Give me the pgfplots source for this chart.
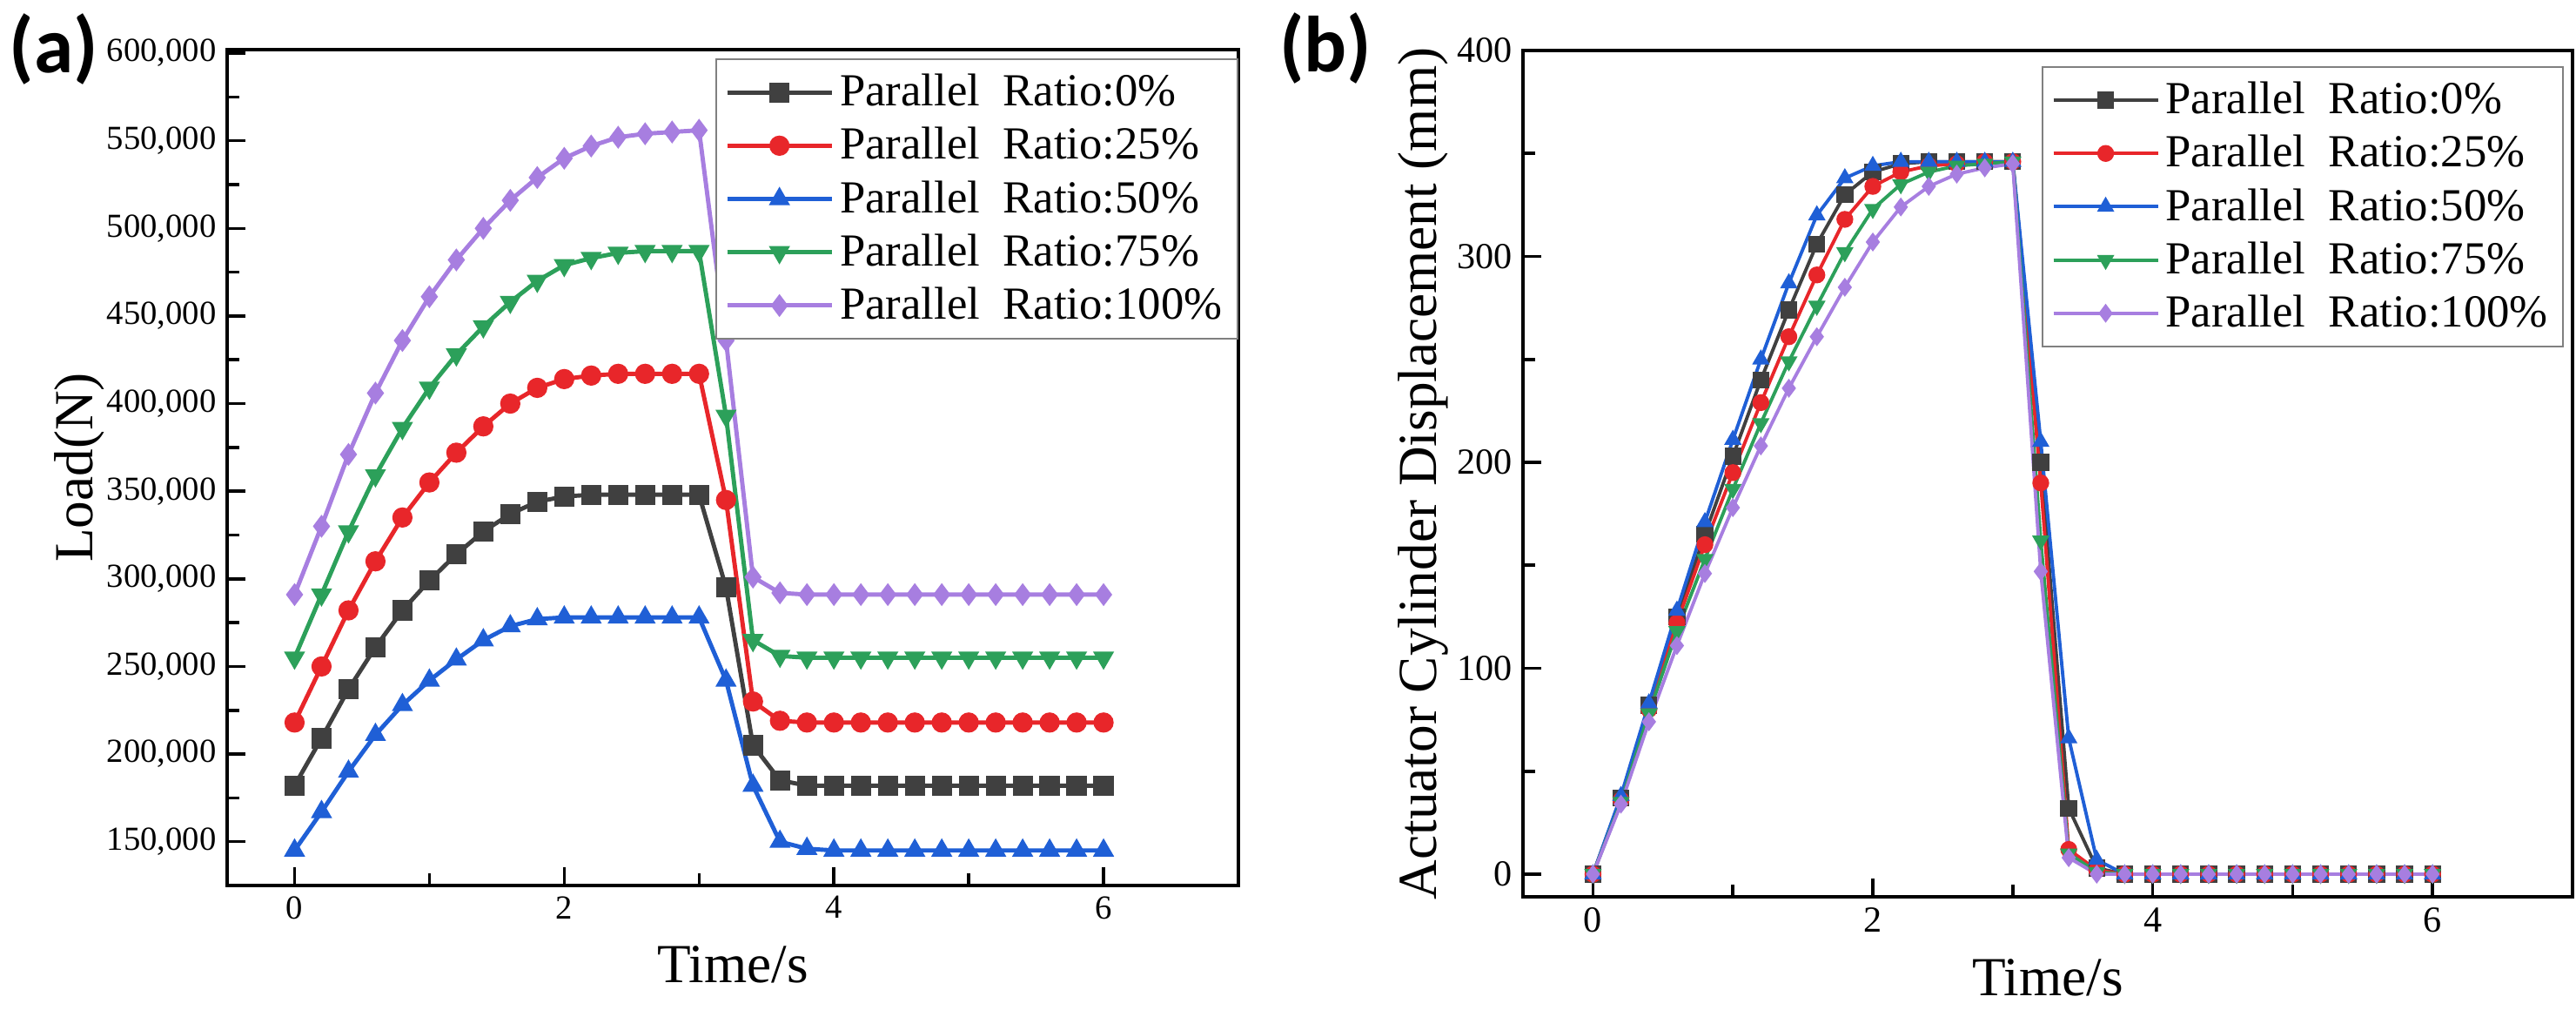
\documentclass[border=0pt]{standalone}
\usepackage{pgfplots}
\pgfplotsset{compat=1.18}
\usepackage{fontspec}
\setmainfont{Liberation Serif}
\newfontfamily\labfont{Carlito}
\definecolor{cK}{HTML}{404040}
\definecolor{cR}{HTML}{E8262A}
\definecolor{cB}{HTML}{1F5FD6}
\definecolor{cG}{HTML}{2CA05A}
\definecolor{cP}{HTML}{A77EE0}
\begin{document}
\begin{tikzpicture}
\path[use as bounding box] (0,0) rectangle (29.6cm,11.59cm);
\pgfplotsset{
  common/.style={
    scale only axis, axis line style={line width=1.4pt},
    xmin=-0.5, xmax=7, xtick={0,2,4,6}, xticklabels={0,2,4,6}, minor xtick={1,3,5},
    tick align=inside, xtick pos=bottom, ytick pos=left,
    major tick length=6pt, minor tick length=4pt, tick style={line width=1pt,black},
    scaled y ticks=false,
    legend cell align=left,
    legend style={font=\fontsize{15}{18}\selectfont, draw=gray, line width=0.6pt, inner sep=3pt, row sep=1.5pt},
    legend image code/.code={\draw[mark repeat=2,mark phase=2,#1] plot coordinates {(0cm,0cm) (0.6cm,0cm) (1.2cm,0cm)};},
  }
}
\begin{axis}[common, at={(2.61cm,1.42cm)}, anchor=south west, width=11.62cm, height=9.6cm,
  ymin=125000, ymax=602000, ytick={150000,200000,250000,300000,350000,400000,450000,500000,550000,600000},
  yticklabels={{150,000},{200,000},{250,000},{300,000},{350,000},{400,000},{450,000},{500,000},{550,000},{600,000}},
  minor ytick={175000,225000,275000,325000,375000,425000,475000,525000,575000},
  tick label style={font=\fontsize{11}{13}\selectfont},
  xlabel={Time/s}, ylabel={Load(N)}, label style={font=\fontsize{18}{20}\selectfont},
  xlabel style={yshift=-2pt}, ylabel style={yshift=-6pt},
  legend style={at={(1,0.99)}, anchor=north east},
  every axis plot/.append style={line width=1.4pt, mark size=2.6pt}]
\addplot[cK, mark=square*] coordinates {(0,182000)(0.2,209000)(0.4,237000)(0.6,261000)(0.8,282000)(1.0,299000)(1.2,314000)(1.4,327000)(1.6,337000)(1.8,344000)(2.0,347000)(2.2,348000)(2.4,348000)(2.6,348000)(2.8,348000)(3.0,348000)(3.2,295000)(3.4,205000)(3.6,185000)(3.8,182000)(4.0,182000)(4.2,182000)(4.4,182000)(4.6,182000)(4.8,182000)(5.0,182000)(5.2,182000)(5.4,182000)(5.6,182000)(5.8,182000)(6.0,182000)};
\addplot[cR, mark=*] coordinates {(0,218000)(0.2,250000)(0.4,282000)(0.6,310000)(0.8,335000)(1.0,355000)(1.2,372000)(1.4,387000)(1.6,400000)(1.8,409000)(2.0,414000)(2.2,416000)(2.4,417000)(2.6,417000)(2.8,417000)(3.0,417000)(3.2,345000)(3.4,230000)(3.6,219000)(3.8,218000)(4.0,218000)(4.2,218000)(4.4,218000)(4.6,218000)(4.8,218000)(5.0,218000)(5.2,218000)(5.4,218000)(5.6,218000)(5.8,218000)(6.0,218000)};
\addplot[cB, mark=triangle*] coordinates {(0,145000)(0.2,167000)(0.4,190000)(0.6,211000)(0.8,228000)(1.0,242000)(1.2,254000)(1.4,265000)(1.6,273000)(1.8,277000)(2.0,278000)(2.2,278000)(2.4,278000)(2.6,278000)(2.8,278000)(3.0,278000)(3.2,242000)(3.4,182000)(3.6,150000)(3.8,146000)(4.0,145000)(4.2,145000)(4.4,145000)(4.6,145000)(4.8,145000)(5.0,145000)(5.2,145000)(5.4,145000)(5.6,145000)(5.8,145000)(6.0,145000)};
\addplot[cG, mark=triangle*, mark options={rotate=180}] coordinates {(0,255000)(0.2,291000)(0.4,327000)(0.6,359000)(0.8,386000)(1.0,409000)(1.2,428000)(1.4,444000)(1.6,458000)(1.8,470000)(2.0,479000)(2.2,483000)(2.4,486000)(2.6,487000)(2.8,487000)(3.0,487000)(3.2,393000)(3.4,265000)(3.6,256000)(3.8,255000)(4.0,255000)(4.2,255000)(4.4,255000)(4.6,255000)(4.8,255000)(5.0,255000)(5.2,255000)(5.4,255000)(5.6,255000)(5.8,255000)(6.0,255000)};
\addplot[cP, mark=diamond*] coordinates {(0,291000)(0.2,330000)(0.4,371000)(0.6,406000)(0.8,436000)(1.0,461000)(1.2,482000)(1.4,500000)(1.6,516000)(1.8,529000)(2.0,540000)(2.2,547000)(2.4,552000)(2.6,554000)(2.8,555000)(3.0,556000)(3.2,436000)(3.4,301000)(3.6,292000)(3.8,291000)(4.0,291000)(4.2,291000)(4.4,291000)(4.6,291000)(4.8,291000)(5.0,291000)(5.2,291000)(5.4,291000)(5.6,291000)(5.8,291000)(6.0,291000)};
\legend{Parallel\ \ Ratio:0\%, Parallel\ \ Ratio:25\%, Parallel\ \ Ratio:50\%, Parallel\ \ Ratio:75\%, Parallel\ \ Ratio:100\%}
\end{axis}
\begin{axis}[common, at={(17.50cm,1.29cm)}, anchor=south west, width=12.06cm, height=9.72cm,
  ymin=-11, ymax=400, ytick={0,100,200,300,400}, yticklabels={0,100,200,300,400}, minor ytick={50,150,250,350},
  tick label style={font=\fontsize{12}{14}\selectfont},
  xlabel={Time/s}, ylabel={Actuator Cylinder Displacement (mm)}, label style={font=\fontsize{18}{20}\selectfont},
  xlabel style={yshift=-2pt}, ylabel style={yshift=-4pt},
  legend style={at={(0.992,0.982)}, anchor=north east},
  every axis plot/.append style={line width=1.1pt, mark size=2.2pt}]
\addplot[cK, mark=square*] coordinates {(0,0)(0.2,37)(0.4,82)(0.6,125)(0.8,165)(1.0,203)(1.2,240)(1.4,274)(1.6,306)(1.8,330)(2.0,341)(2.2,345)(2.4,346)(2.6,346)(2.8,346)(3.0,346)(3.2,200)(3.4,32)(3.6,3)(3.8,0)(4.0,0)(4.2,0)(4.4,0)(4.6,0)(4.8,0)(5.0,0)(5.2,0)(5.4,0)(5.6,0)(5.8,0)(6.0,0)};
\addplot[cR, mark=*] coordinates {(0,0)(0.2,36)(0.4,80)(0.6,122)(0.8,160)(1.0,195)(1.2,229)(1.4,261)(1.6,291)(1.8,318)(2.0,334)(2.2,341)(2.4,344)(2.6,345)(2.8,346)(3.0,346)(3.2,190)(3.4,12)(3.6,2)(3.8,0)(4.0,0)(4.2,0)(4.4,0)(4.6,0)(4.8,0)(5.0,0)(5.2,0)(5.4,0)(5.6,0)(5.8,0)(6.0,0)};
\addplot[cB, mark=triangle*] coordinates {(0,0)(0.2,38)(0.4,83)(0.6,128)(0.8,171)(1.0,211)(1.2,250)(1.4,287)(1.6,320)(1.8,338)(2.0,344)(2.2,346)(2.4,346)(2.6,346)(2.8,346)(3.0,346)(3.2,210)(3.4,66)(3.6,7)(3.8,0)(4.0,0)(4.2,0)(4.4,0)(4.6,0)(4.8,0)(5.0,0)(5.2,0)(5.4,0)(5.6,0)(5.8,0)(6.0,0)};
\addplot[cG, mark=triangle*, mark options={rotate=180}] coordinates {(0,0)(0.2,35)(0.4,78)(0.6,118)(0.8,153)(1.0,187)(1.2,219)(1.4,249)(1.6,276)(1.8,302)(2.0,323)(2.2,335)(2.4,341)(2.6,344)(2.8,345)(3.0,346)(3.2,162)(3.4,10)(3.6,1)(3.8,0)(4.0,0)(4.2,0)(4.4,0)(4.6,0)(4.8,0)(5.0,0)(5.2,0)(5.4,0)(5.6,0)(5.8,0)(6.0,0)};
\addplot[cP, mark=diamond*] coordinates {(0,0)(0.2,34)(0.4,74)(0.6,111)(0.8,146)(1.0,178)(1.2,208)(1.4,236)(1.6,261)(1.8,285)(2.0,307)(2.2,324)(2.4,334)(2.6,340)(2.8,343)(3.0,345)(3.2,147)(3.4,8)(3.6,0)(3.8,0)(4.0,0)(4.2,0)(4.4,0)(4.6,0)(4.8,0)(5.0,0)(5.2,0)(5.4,0)(5.6,0)(5.8,0)(6.0,0)};
\legend{Parallel\ \ Ratio:0\%, Parallel\ \ Ratio:25\%, Parallel\ \ Ratio:50\%, Parallel\ \ Ratio:75\%, Parallel\ \ Ratio:100\%}
\end{axis}
\node[font=\labfont\bfseries\fontsize{26}{28}\selectfont] at (0.62cm,11.02cm) {(a)};
\node[font=\labfont\bfseries\fontsize{26}{28}\selectfont] at (15.23cm,11.03cm) {(b)};
\end{tikzpicture}
\end{document}
